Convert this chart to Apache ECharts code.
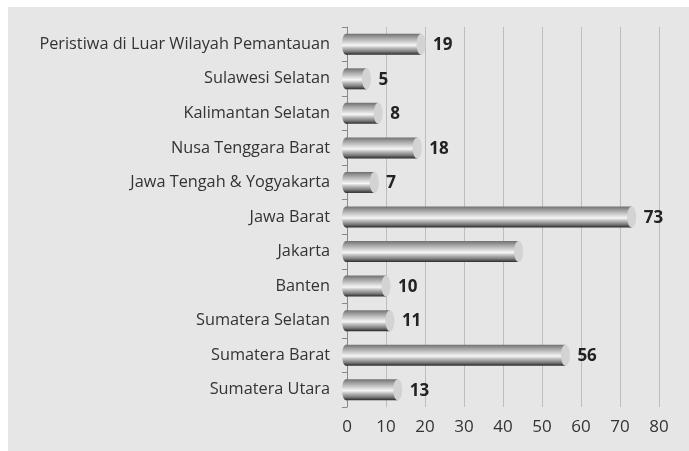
<!DOCTYPE html>
<html>
<head>
<meta charset="utf-8">
<style>
  html, body { margin: 0; padding: 0; width: 689px; height: 451px; overflow: hidden; }
  body { background: #fff linear-gradient(#e6e6e7, #e6e6e7) no-repeat 8px 7px / 700px 460px; }
  #chart { width: 689px; height: 451px; }
</style>
<script src="https://cdn.jsdelivr.net/npm/echarts@6/dist/echarts.min.js"></script>
</head>
<body>
<div id="chart"></div>
<script>
// regions, top to bottom
var regions = [
  'Peristiwa di Luar Wilayah Pemantauan',
  'Sulawesi Selatan',
  'Kalimantan Selatan',
  'Nusa Tenggara Barat',
  'Jawa Tengah & Yogyakarta',
  'Jawa Barat',
  'Jakarta',
  'Banten',
  'Sumatera Selatan',
  'Sumatera Barat',
  'Sumatera Utara'
];
var counts = [19, 5, 8, 18, 7, 73, 44, 10, 11, 56, 13];
// the source picture prints no number for these
var unlabeled = ['Jakarta'];
var ticks = [0, 10, 20, 30, 40, 50, 60, 70, 80];

var chart = echarts.init(document.getElementById('chart'));

function metal() {
  return new echarts.graphic.LinearGradient(0, 0, 0, 1, [
    { offset: 0, color: '#707070' },
    { offset: 0.18, color: '#a0a0a0' },
    { offset: 0.4, color: '#d4d4d4' },
    { offset: 0.55, color: '#f6f6f6' },
    { offset: 0.68, color: '#bcbcbc' },
    { offset: 0.85, color: '#7c7c7c' },
    { offset: 1, color: '#2a2a2a' }
  ]);
}

function drawBar(params, api) {
  var v = api.value(0);
  var cat = api.value(1);
  var start = api.coord([0, cat]);
  var end = api.coord([v, cat]);
  var h = 21;
  var y = end[1];
  var x0 = start[0] - 1;
  var x1 = end[0];
  var kids = [
    { type: 'ellipse', shape: { cx: x0, cy: y, rx: 4, ry: h / 2 }, style: { fill: metal() } },
    { type: 'rect', shape: { x: x0, y: y - h / 2, width: x1 - x0, height: h }, style: { fill: metal() } },
    { type: 'ellipse', shape: { cx: x1, cy: y, rx: 4.5, ry: h / 2 }, style: { fill: '#d3d3d3' } }
  ];
  var name = regions[cat];
  if (unlabeled.indexOf(name) < 0) {
    kids.push({
      type: 'text',
      style: {
        text: String(v), x: x1 + 12, y: y + 1,
        fill: '#222', font: 'bold 17px "Open Sans", "Noto Sans", sans-serif',
        align: 'left', verticalAlign: 'middle',
        textAlign: 'left', textVerticalAlign: 'middle'
      }
    });
  }
  return { type: 'group', children: kids };
}

var option = {
  animation: false,
  grid: { left: 347, right: 30, top: 27, bottom: 44 },
  xAxis: {
    type: 'value', min: 0, max: 80, interval: 10,
    axisLine: { show: false },
    axisTick: { show: false },
    splitLine: { show: true, lineStyle: { color: '#bdbdbd', width: 1 } },
    axisLabel: {
      color: '#333', fontSize: 17, margin: 12,
      fontFamily: '"Open Sans", "Noto Sans", sans-serif',
      formatter: function (val) { return ticks.indexOf(val) >= 0 ? String(val) : ''; }
    }
  },
  yAxis: {
    type: 'category', data: regions, inverse: true,
    axisLine: { show: true, lineStyle: { color: '#8a8a8a', width: 1 } },
    axisTick: { show: true, length: 5, lineStyle: { color: '#8a8a8a' } },
    axisLabel: {
      color: '#333', fontSize: 16.3, margin: 17,
      fontFamily: '"Open Sans", "Noto Sans", sans-serif'
    }
  },
  series: [{
    type: 'custom',
    renderItem: drawBar,
    encode: { x: 0, y: 1 },
    data: counts.map(function (c, i) { return [c, i]; }),
    z: 5
  }]
};

chart.setOption(option);
</script>
</body>
</html>
